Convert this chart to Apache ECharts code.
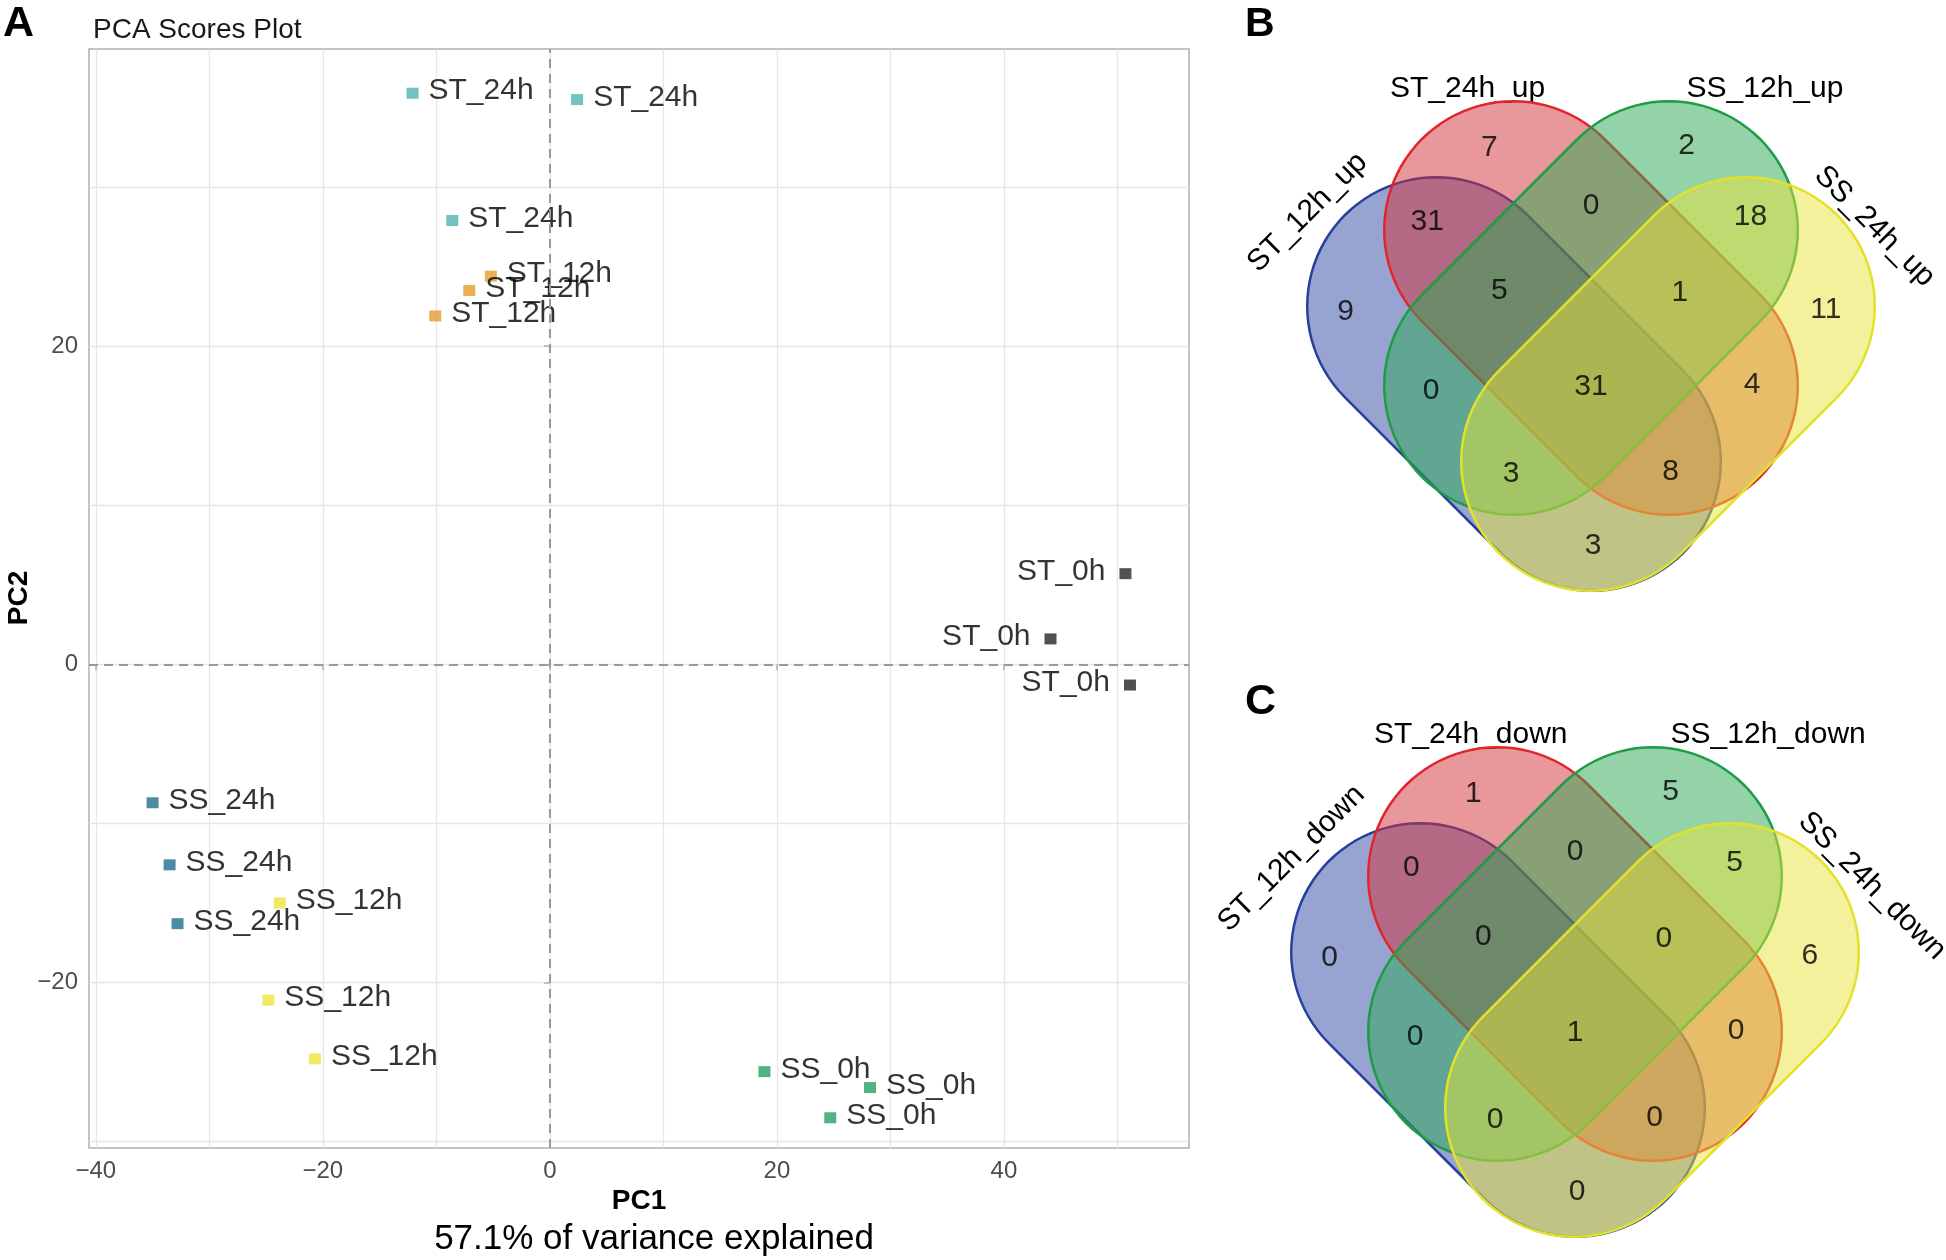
<!DOCTYPE html>
<html><head><meta charset="utf-8">
<script src="https://cdn.jsdelivr.net/npm/echarts@6/dist/echarts.min.js"></script>
<style>html,body{margin:0;padding:0;background:#fff}#chart{width:1946px;height:1260px}</style>
</head><body><div id="chart"></div>
<script>
// ---------- PCA scores (PC1, PC2) ----------
const groupNames = ['ST_24h','ST_12h','ST_0h','SS_24h','SS_12h','SS_0h'];
const ST_24h = [[-12.1,35.9],[2.4,35.5],[-8.6,27.9]];
const ST_12h = [[-5.2,24.4],[-7.1,23.5],[-10.1,21.9]];
const ST_0h  = [[50.7,5.7],[44.1,1.6],[51.1,-1.3]];
const SS_24h = [[-35.0,-8.7],[-33.5,-12.6],[-32.8,-16.3]];
const SS_12h = [[-23.8,-15.0],[-24.8,-21.1],[-20.7,-24.8]];
const SS_0h  = [[18.9,-25.6],[28.2,-26.6],[24.7,-28.5]];
const xMajorTicks = [-40,-20,0,20,40];
const xGridTicks = [-40,-30,-20,-10,0,10,20,30,40,50];
const yMajorTicks = [-20,0,20];
const yGridTicks = [-30,-20,-10,0,10,20,30];

// ---------- Venn counts ----------
const regionNames = ['ST12','ST24','SS12','SS24','ST12&ST24','ST24&SS12','SS12&SS24',
  'ST12&ST24&SS12','ST24&SS12&SS24','ST12&SS12','ALL','ST24&SS24','ST12&SS12&SS24','ST12&ST24&SS24','ST12&SS24'];
const upCounts   = [9,7,2,11,31,0,18,5,1,0,31,4,3,8,3];
const downCounts = [0,1,5,6,0,0,5,0,0,0,1,0,0,0,0];
const upSetNames   = ['ST_12h_up','ST_24h_up','SS_12h_up','SS_24h_up'];
const downSetNames = ['ST_12h_down','ST_24h_down','SS_12h_down','SS_24h_down'];

// ---------- layout (pixels) ----------
const vennCenters = [[1591,308],[1575,954]];
const regionOffsets = [[-245.5,4],[-101.6,-160],[95.6,-162],[234.9,2],[-163.7,-86],[0,-102.5],[159.5,-91],
  [-91.6,-17.5],[88.8,-15.5],[-160,83],[0,79],[161,77],[-80,165.5],[79.6,164],[2,238]];
const capsuleLayout = [[-77,76,1],[0,0,1],[0,0,-1],[77,76,-1]]; // blue, red, green, yellow
const capHalfLen = 110, capRadius = 129;
const setLabelLayout = [
  {dx:-283.4, dy:-95.5, rot:45, align:'center'},
  {dx:-201, dy:-219, rot:0, align:'left'},
  {dx:95.6, dy:-219, rot:0, align:'left'},
  {dx:228, dy:-137, rot:-45, align:'left'}
];
const vennFill = ['rgba(47,73,165,0.5)','rgba(209,47,53,0.5)','rgba(41,167,81,0.5)','rgba(231,227,57,0.5)'];
const vennStroke = ['#27409c','#e0262b','#1f9c46','#e3e12a'];
const groupColors = ['#4eb3b1','#e69b2e','#262626','#1f6f8b','#ece33c','#23a065'];
const FONT = 'Liberation Sans, Arial, Helvetica, sans-serif';

const groupData = [ST_24h, ST_12h, ST_0h, SS_24h, SS_12h, SS_0h];
const minusFmt = v => (v < 0 ? '\u2212' + (-v) : String(v));

const series = groupData.map((d, i) => ({
  type: 'scatter', name: groupNames[i], xAxisIndex: 0, yAxisIndex: 0,
  data: d, symbol: 'rect', symbolSize: [12, 11],
  itemStyle: { color: groupColors[i] }, z: 4,
  label: {
    show: true, formatter: groupNames[i],
    position: groupNames[i] === 'ST_0h' ? 'left' : 'right',
    distance: groupNames[i] === 'ST_0h' ? 14 : 10,
    offset: [0, -2],
    fontSize: 30, fontFamily: FONT, color: '#000'
  },
  emphasis: { disabled: true }
}));
series[0].markLine = {
  symbol: 'none', silent: true, animation: false,
  lineStyle: { color: '#9a9a9a', type: [9, 6], width: 2 },
  label: { show: false },
  data: [{ xAxis: 0 }, { yAxis: 0 }]
};

// Venn capsules
const capsuleData = [];
vennCenters.forEach(c => capsuleLayout.forEach(l => capsuleData.push([c[0] + l[0], c[1] + l[1], l[2]])));
series.push({
  type: 'custom', xAxisIndex: 2, yAxisIndex: 2, silent: true, z: 2,
  data: capsuleData,
  renderItem: function (params, api) {
    const cx = api.value(0), cy = api.value(1), dir = api.value(2);
    const k = params.dataIndex % 4;
    const s = Math.SQRT1_2;
    const ux = dir * s, uy = s, vx = -uy, vy = ux;
    const pts = [];
    const N = 48;
    for (let e = 0; e < 2; e++) {
      const sign = e === 0 ? 1 : -1;
      const ox = cx + sign * capHalfLen * ux, oy = cy + sign * capHalfLen * uy;
      for (let i = 0; i <= N; i++) {
        const t = (e === 0 ? -Math.PI / 2 : Math.PI / 2) + Math.PI * i / N;
        const ex = Math.cos(t) * ux + Math.sin(t) * vx, ey = Math.cos(t) * uy + Math.sin(t) * vy;
        pts.push(api.coord([ox + capRadius * ex, oy + capRadius * ey]));
      }
    }
    return { type: 'polygon', shape: { points: pts },
      style: { fill: vennFill[k], stroke: vennStroke[k], lineWidth: 2.5 } };
  }
});
[upCounts, downCounts].forEach((counts, vi) => {
  const c = vennCenters[vi];
  series.push({
    type: 'scatter', xAxisIndex: 2, yAxisIndex: 2, silent: true, z: 6,
    symbolSize: 0,
    data: counts.map((v, i) => [c[0] + regionOffsets[i][0], c[1] + regionOffsets[i][1], v]),
    label: { show: true, position: 'inside', formatter: p => String(p.value[2]),
      fontSize: 30, fontFamily: FONT, color: '#000' }
  });
});

// graphic texts
const graphics = [
  { type: 'text', x: 3, y: 24, style: { text: 'A', font: 'bold 43px ' + FONT, fill: '#000', align: 'left', verticalAlign: 'middle' } },
  { type: 'text', x: 1245, y: 25, style: { text: 'B', font: 'bold 41px ' + FONT, fill: '#000', align: 'left', verticalAlign: 'middle' } },
  { type: 'text', x: 1245, y: 702, style: { text: 'C', font: 'bold 43px ' + FONT, fill: '#000', align: 'left', verticalAlign: 'middle' } },
  { type: 'text', x: 93, y: 30, style: { text: 'PCA Scores Plot', font: '28px ' + FONT, fill: '#1a1a1a', align: 'left', verticalAlign: 'middle' } },
  { type: 'text', x: 639, y: 1201, style: { text: 'PC1', font: 'bold 28px ' + FONT, fill: '#000', align: 'center', verticalAlign: 'middle' } },
  { type: 'text', x: 654, y: 1239, style: { text: '57.1% of variance explained', font: '35px ' + FONT, fill: '#000', align: 'center', verticalAlign: 'middle' } },
  { type: 'text', x: 19, y: 598, rotation: Math.PI / 2, style: { text: 'PC2', font: 'bold 28px ' + FONT, fill: '#000', align: 'center', verticalAlign: 'middle' } }
];
[upSetNames, downSetNames].forEach((names, vi) => {
  const c = vennCenters[vi];
  names.forEach((n, i) => {
    const L = setLabelLayout[i];
    graphics.push({ type: 'text', x: c[0] + L.dx, y: c[1] + L.dy, rotation: L.rot * Math.PI / 180,
      style: { text: n, font: '30px ' + FONT, fill: '#000', align: L.align, verticalAlign: 'middle' } });
  });
});

const chart = echarts.init(document.getElementById('chart'), null, { renderer: 'canvas' });
chart.setOption({
  animation: false,
  backgroundColor: '#fff',
  grid: [
    { left: 89, top: 49, width: 1100, height: 1099, show: true, borderColor: '#b0b0b0', borderWidth: 1.5, backgroundColor: '#fff' },
    { left: 0, top: 0, width: 1946, height: 1260, show: false }
  ],
  xAxis: [
    { type: 'value', gridIndex: 0, min: -40.6, max: 56.3, position: 'bottom',
      axisLine: { show: false },
      axisTick: { show: false, customValues: xGridTicks },
      axisLabel: { show: true, customValues: xMajorTicks, formatter: minusFmt, margin: 11,
        fontSize: 24, fontFamily: FONT, color: '#4d4d4d' },
      splitLine: { show: true, lineStyle: { color: '#e6e6e6', width: 1.3 } } },
    { type: 'value', gridIndex: 0, min: -40.6, max: 56.3, position: 'bottom',
      axisLine: { show: false },
      axisTick: { show: true, length: 6, customValues: xMajorTicks, lineStyle: { color: '#b0b0b0', width: 1.5 } },
      axisLabel: { show: false }, splitLine: { show: false } },
    { type: 'value', gridIndex: 1, min: 0, max: 1946, show: false }
  ],
  yAxis: [
    { type: 'value', gridIndex: 0, min: -30.4, max: 38.68, position: 'left',
      axisLine: { show: false },
      axisTick: { show: false, customValues: yGridTicks },
      axisLabel: { show: true, customValues: yMajorTicks, formatter: minusFmt, margin: 11,
        fontSize: 24, fontFamily: FONT, color: '#4d4d4d' },
      splitLine: { show: true, lineStyle: { color: '#e6e6e6', width: 1.3 } } },
    { type: 'value', gridIndex: 0, min: -30.4, max: 38.68, position: 'left',
      axisLine: { show: false },
      axisTick: { show: true, length: 6, customValues: yMajorTicks, lineStyle: { color: '#b0b0b0', width: 1.5 } },
      axisLabel: { show: false }, splitLine: { show: false } },
    { type: 'value', gridIndex: 1, min: 0, max: 1260, inverse: true, show: false }
  ],
  graphic: graphics,
  series: series
});
</script></body></html>
